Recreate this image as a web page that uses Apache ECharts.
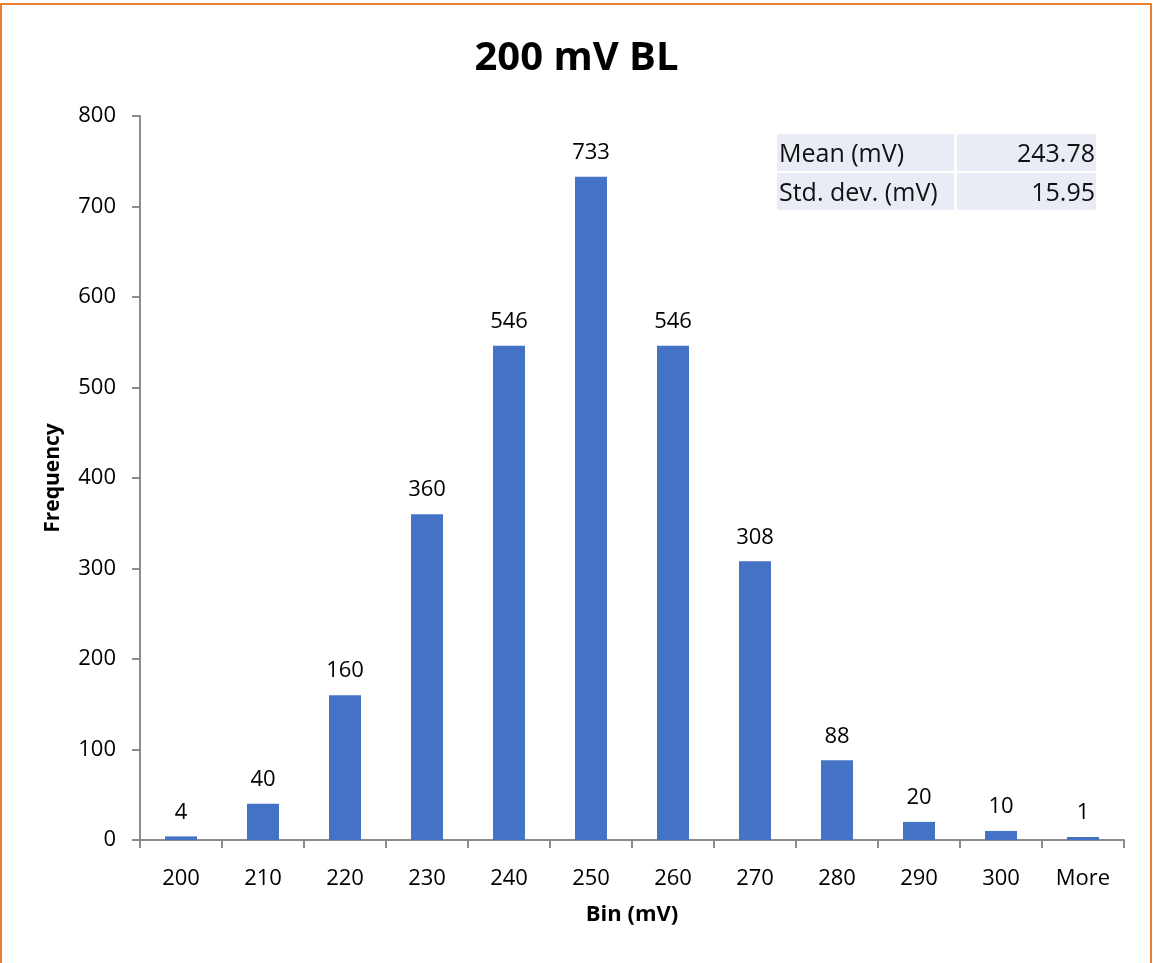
<!DOCTYPE html>
<html>
<head>
<meta charset="utf-8">
<script src="https://cdn.jsdelivr.net/npm/echarts@6/dist/echarts.min.js"></script>
<style>
  html, body { margin: 0; padding: 0; background: #fff; }
  #chart { width: 1153px; height: 963px; }
</style>
</head>
<body>
<div id="chart"></div>
<script>
// Histogram of baseline readings, binned in 10 mV steps
const bins = ['200', '210', '220', '230', '240', '250', '260', '270', '280', '290', '300', 'More'];
const frequency = [4, 40, 160, 360, 546, 733, 546, 308, 88, 20, 10, 1];
const yTicks = { min: 0, max: 800, interval: 100 };

// Summary statistics shown in the inset table
const statNames = ['Mean (mV)', 'Std. dev. (mV)'];
const statValues = ['243.78', '15.95'];

const FONT = '"Open Sans", "Noto Sans", sans-serif';
const chart = echarts.init(document.getElementById('chart'), null, { renderer: 'canvas' });

// Inset table cells
const tableGraphics = [];
const rowTops = [134, 173];
const rowH = 37;
statNames.forEach((name, i) => {
  const y = rowTops[i];
  tableGraphics.push(
    { type: 'rect', shape: { x: 777, y: y, width: 177, height: rowH }, style: { fill: '#E9EBF5' }, silent: true },
    { type: 'rect', shape: { x: 957, y: y, width: 139, height: rowH }, style: { fill: '#E9EBF5' }, silent: true },
    { type: 'text', x: 779, y: y + rowH / 2 + 2, style: { text: name, font: '25px ' + FONT, fill: '#111', textVerticalAlign: 'middle', textAlign: 'left' }, silent: true },
    { type: 'text', x: 1095, y: y + rowH / 2 + 2, style: { text: statValues[i], font: '25px ' + FONT, fill: '#111', textVerticalAlign: 'middle', textAlign: 'right' }, silent: true }
  );
});

chart.setOption({
  backgroundColor: '#fff',
  animation: false,
  title: {
    text: '200 mV BL',
    left: 'center',
    top: 34,
    textStyle: { fontFamily: FONT, fontSize: 40, fontWeight: 'bold', color: '#000' }
  },
  grid: { left: 140, right: 29, top: 116, bottom: 123, containLabel: false },
  xAxis: {
    type: 'category',
    data: bins,
    name: 'Bin (mV)',
    nameLocation: 'middle',
    nameGap: 64,
    nameTextStyle: { fontFamily: FONT, fontSize: 22, fontWeight: 'bold', color: '#000' },
    axisLine: { lineStyle: { color: '#8c8c8c', width: 2 } },
    axisTick: { show: true, length: 8, alignWithLabel: false, lineStyle: { color: '#8c8c8c', width: 2 } },
    axisLabel: { fontFamily: FONT, fontSize: 22, color: '#000', margin: 28 },
    splitLine: { show: false }
  },
  yAxis: {
    type: 'value',
    min: yTicks.min,
    max: yTicks.max,
    interval: yTicks.interval,
    name: 'Frequency',
    nameLocation: 'middle',
    nameGap: 76,
    nameRotate: 90,
    nameTextStyle: { fontFamily: FONT, fontSize: 21, fontWeight: 'bold', color: '#000' },
    axisLine: { show: true, lineStyle: { color: '#8c8c8c', width: 2 } },
    axisTick: { show: true, length: 8, lineStyle: { color: '#8c8c8c', width: 2 } },
    axisLabel: { fontFamily: FONT, fontSize: 22, color: '#000', margin: 24 },
    splitLine: { show: false }
  },
  series: [{
    type: 'bar',
    data: frequency,
    barCategoryGap: '61%',
    barMinHeight: 3,
    itemStyle: { color: '#4472C4' },
    label: {
      show: true,
      position: 'top',
      distance: 13,
      fontFamily: FONT,
      fontSize: 22,
      color: '#000'
    }
  }],
  graphic: [
    { type: 'rect', shape: { x: 1, y: 4, width: 1150, height: 1000 }, style: { fill: 'none', stroke: '#ED7D31', lineWidth: 2 }, silent: true, z: 100 }
  ].concat(tableGraphics)
});
</script>
</body>
</html>
